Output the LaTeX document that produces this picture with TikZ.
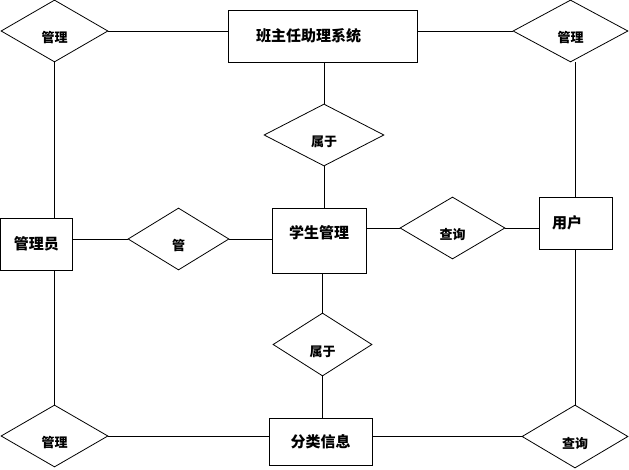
\documentclass[tikz,border=0pt]{standalone}
\usepackage{fontspec}
\setmainfont{Noto Sans CJK SC}
\usepackage{tikz}
\usetikzlibrary{shapes.geometric,calc}
\tikzset{
  erbox/.style={draw=black, rectangle, line width=0.8pt, inner sep=1pt, font=\fontsize{15}{18}\selectfont\bfseries},
  erdiamond/.style={draw=black, diamond, line width=0.8pt, inner sep=1pt, text height=24pt, text depth=1pt, font=\fontsize{13}{15}\selectfont\bfseries},
  erline/.style={draw=black, line width=0.8pt},
}
\begin{document}
\begin{tikzpicture}[x=1pt, y=-1pt]
  \useasboundingbox (0,0) rectangle (629,470);
  \node[erbox, minimum width=189pt, minimum height=52pt, text width=133pt, align=left] (sys) at (322.5,36) {班主任助理系统};
  \node[erbox, minimum width=71.5pt, minimum height=52pt] (admin) at (36.25,244) {管理员};
  \node[erbox, minimum width=94pt, minimum height=65pt, text depth=16pt] (stu) at (319,240.5) {学生管理};
  \node[erbox, minimum width=73pt, minimum height=52pt, text width=47pt, align=left] (user) at (575.5,223) {用户};
  \node[erbox, minimum width=103pt, minimum height=47pt] (cls) at (320.5,441.5) {分类信息};
  \node[erdiamond, minimum width=107pt, minimum height=62pt] (tlm) at (54.5,31) {管理};
  \node[erdiamond, minimum width=115pt, minimum height=62pt] (trm) at (570.5,31) {管理};
  \node[erdiamond, minimum width=120pt, minimum height=62pt] (bel1) at (324,135) {属于};
  \node[erdiamond, minimum width=101pt, minimum height=62pt] (guan) at (178.5,239) {管};
  \node[erdiamond, minimum width=105pt, minimum height=62pt] (cx) at (452.5,228) {查询};
  \node[erdiamond, minimum width=99pt, minimum height=63pt] (bel2) at (322.5,344.5) {属于};
  \node[erdiamond, minimum width=107pt, minimum height=62pt] (blm) at (54.5,436) {管理};
  \node[erdiamond, minimum width=106pt, minimum height=63pt] (brq) at (575,436.5) {查询};
  \draw[erline] (tlm.east) -- (tlm.east -| sys.west);
  \draw[erline] (trm.west -| sys.east) -- (trm.west);
  \draw[erline] (bel1.north) -- (bel1.north |- sys.south);
  \draw[erline] (bel1.south) -- (bel1.south |- stu.north);
  \draw[erline] (tlm.south) -- (tlm.south |- admin.north);
  \draw[erline] (guan.west -| admin.east) -- (guan.west);
  \draw[erline] (guan.east) -- (guan.east -| stu.west);
  \draw[erline] (cx.west -| stu.east) -- (cx.west);
  \draw[erline] (cx.east) -- (cx.east -| user.west);
  \draw[erline] (user.north) -- (user.north |- trm.south);
  \draw[erline] (bel2.north) -- (bel2.north |- stu.south);
  \draw[erline] (bel2.south) -- (bel2.south |- cls.north);
  \draw[erline] (admin.south -| tlm.south) -- (blm.north);
  \draw[erline] (blm.east) -- (blm.east -| cls.west);
  \draw[erline] (brq.west -| cls.east) -- (brq.west);
  \draw[erline] (user.south) -- (user.south |- brq.north);
\end{tikzpicture}
\end{document}
